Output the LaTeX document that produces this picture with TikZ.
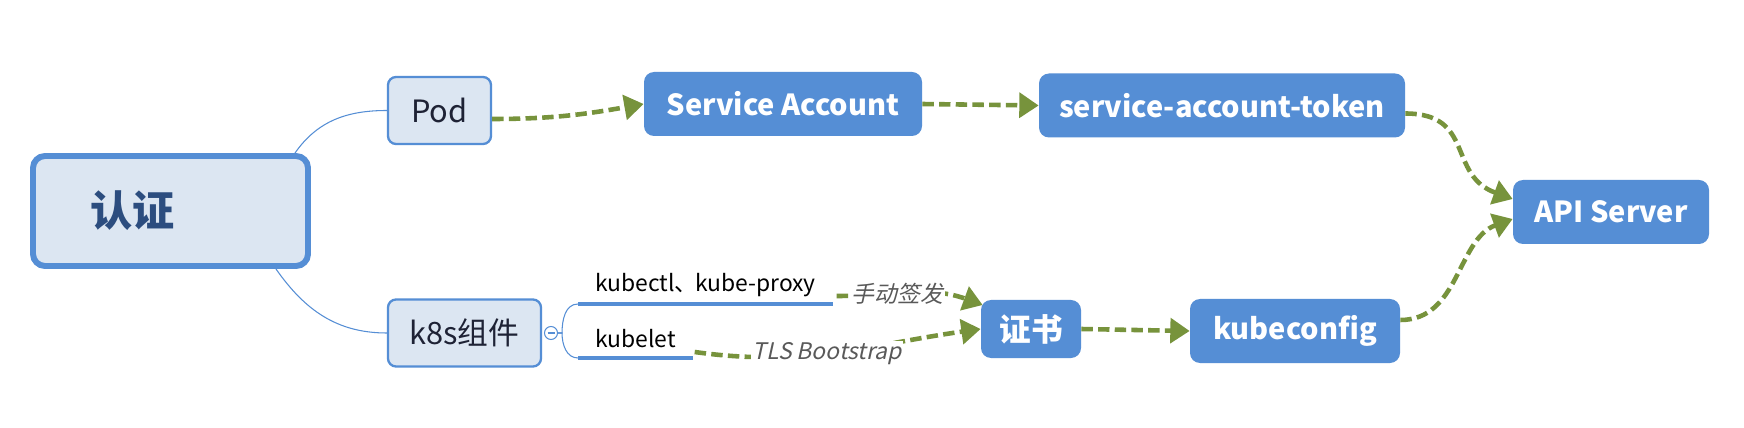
\documentclass[tikz,border=0pt]{standalone}
\usepackage{fontspec}
\setmainfont{Noto Sans CJK SC}
\newfontfamily\slantfont{Noto Sans CJK SC}[FakeSlant=0.22]
\usetikzlibrary{positioning, arrows.meta, calc}
\definecolor{boxblue}{HTML}{558ED5}
\definecolor{pale}{HTML}{DCE6F2}
\definecolor{olive}{HTML}{77933C}
\definecolor{ink}{HTML}{1E2235}
\definecolor{navy}{HTML}{2C4D7F}
\definecolor{note}{HTML}{595959}

\begin{document}
\begin{tikzpicture}[
  x=0.2mm, y=-0.2mm,
  root/.style={draw=boxblue, line width=3.4pt, fill=pale, rounded corners=2.4mm,
               text=navy, font=\bfseries\fontsize{24}{28}\selectfont,
               minimum width=55mm, minimum height=22mm, inner xsep=11.4mm,
               text width=32.2mm, align=left},
  topic/.style={draw=boxblue, line width=1.3pt, fill=pale, rounded corners=1.6mm,
                text=ink, font=\fontsize{17.5}{20}\selectfont, inner sep=0pt,
                minimum height=13.4mm},
  term/.style={fill=boxblue, rounded corners=2mm, text=white, inner sep=0pt,
               font=\bfseries\fontsize{16.5}{20}\selectfont, minimum height=12.8mm},
  leaf/.style={font=\fontsize{13}{16}\selectfont, text=black, inner xsep=3.4mm,
               inner ysep=0pt, align=left},
  tag/.style={font=\slantfont\fontsize{13}{16}\selectfont, text=note, fill=white,
              inner sep=1pt},
  branch/.style={draw=boxblue, line width=0.6pt},
  under/.style={draw=boxblue, line width=2.2pt},
  flow/.style={-{Triangle[length=11pt, width=14pt]}, draw=olive, line width=2.6pt,
               dash pattern=on 6.5pt off 3pt},
]
\useasboundingbox[fill=white] (0,0) rectangle (1744,428);

% ── mind map ─────────────────────────────────────────────────────────────────
\node[root] (auth) at (170.5,211) {认证};
\node[topic, minimum width=20.6mm] (pod) at (439.5,110.5) {Pod};
\node[topic, minimum width=30.6mm] (comp) at (464.5,333) {k8s组件};
\node[circle, draw=boxblue, line width=0.6pt, fill=white, minimum size=2.6mm,
      inner sep=0pt] (fold) at (551,333) {};
\node[leaf, text width=44mm, anchor=west] (kctl) at (578,285)
    {\mbox{kubectl、\kern-0.1em kube-proxy}};
\node[leaf, text width=16mm, anchor=west] (klet) at (578,339) {kubelet};

% ── credentials ──────────────────────────────────────────────────────────────
\node[term, minimum width=55.6mm] (sa) at (783,104) {Service Account};
\node[term, minimum width=73.2mm] (sat) at (1222,105.5) {service-account-token};
\node[term, minimum width=39.2mm] (api) at (1611,212) {API Server};
\node[term, minimum width=20mm, minimum height=11.6mm,
      font=\bfseries\fontsize{18}{20}\selectfont] (cert) at (1031,329) {证书};
\node[term, minimum width=42mm] (kcfg) at (1295,331) {kubeconfig};

% ── branches ─────────────────────────────────────────────────────────────────
\draw[branch] ($(auth.north east)+(-16,0)$) to[out=55, in=180] (pod.west);
\draw[branch] ($(auth.south east)+(-35,0)$) to[out=-55, in=180] (comp.west);
\draw[branch] ([xshift=-0.7mm]fold.center) -- ([xshift=0.7mm]fold.center);
\draw[branch] (fold.east) -- ++(4,0) to[out=90, in=180] ($(kctl.west)+(0,19)$);
\draw[branch] (fold.east) -- ++(4,0) to[out=-90, in=180] ($(klet.west)+(0,19)$);
\draw[under] ($(kctl.west)+(0,19)$) -- ($(kctl.east)+(0,19)$);
\draw[under] ($(klet.west)+(0,19)$) -- ($(klet.east)+(0,19)$);

% ── flows ────────────────────────────────────────────────────────────────────
\draw[flow] ($(pod.east)+(0,8.5)$) to[out=0, in=190] (sa.west);
\draw[flow] (sa.east) -- (sat.west);
\draw[flow] ($(sat.east)+(0,8)$) to[out=0, in=160, looseness=1.3] ($(api.west)+(0,-13)$);
\draw[flow] ($(kcfg.east)+(0,-11)$) to[out=0, in=200] ($(api.west)+(0,7)$);
\draw[flow] ($(kctl.east)+(4,11)$) to[out=0, in=160]
    node[tag, pos=0.4] {手动签发} ($(cert.west)+(2,-24)$);
\draw[flow] ($(klet.east)+(2,13)$) to[out=-8, in=188]
    node[tag, pos=0.46] {TLS Bootstrap} (cert.west);
\draw[flow] (cert.east) -- (kcfg.west);

\end{tikzpicture}
\end{document}
